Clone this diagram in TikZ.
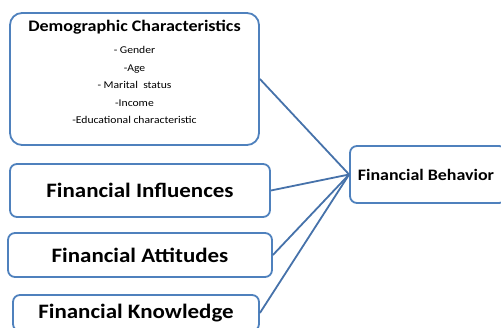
\documentclass[tikz,border=0pt]{standalone}
\usepackage{fontspec}
\setmainfont[FakeStretch=1.12]{Carlito}
\definecolor{boxblue}{RGB}{79,129,189}
\definecolor{lineblue}{RGB}{70,114,170}
\begin{document}
\begin{tikzpicture}[x=1pt,y=-1pt,
  box/.style={draw=boxblue, line width=1.8pt, rounded corners=7pt, fill=white, inner sep=0pt},
  big/.style={font=\fontsize{20.5}{24}\selectfont\bfseries},
  conn/.style={draw=lineblue, line width=1.8pt}]
\useasboundingbox (0,0) rectangle (501,328);
\begin{scope}
\clip (0,0) rectangle (501,328);
% demographic box
\node[box, rounded corners=12pt, minimum width=249pt, minimum height=132pt] (demo) at (134.5,79) {};
\node[anchor=base, font=\fontsize{16.1}{20}\selectfont\bfseries] (demotitle) at (134.5,32) {Demographic Characteristics};
\node[anchor=north, align=center, inner sep=0pt, font=\fontsize{10.4}{17.5}\selectfont] (demoitems) at (134.5,46.5) {- Gender\\-Age\\- Marital\ \ status\\-Income\\-Educational characteristic};
% other boxes
\node[box, big, minimum width=260pt, minimum height=53pt] (infl) at (140,190.5) {Financial Influences};
\node[box, big, minimum width=264pt, minimum height=44pt] (att) at (140,255) {Financial Attitudes};
\node[box, big, minimum width=246pt, minimum height=36pt] (know) at (136,313) {Financial Knowledge};
\node[box, font=\fontsize{16}{19}\selectfont\bfseries, minimum width=156pt, minimum height=57pt] (beh) at (428,174.5) {\hspace*{-1pt}Financial Behavior\hspace*{3pt}};
% connectors
\draw[conn] (demo.east) -- (beh.west);
\draw[conn] (infl.east) -- (beh.west);
\draw[conn] (att.east) -- (beh.west);
\draw[conn] (know.east) -- (beh.west);
\end{scope}
\end{tikzpicture}
\end{document}
